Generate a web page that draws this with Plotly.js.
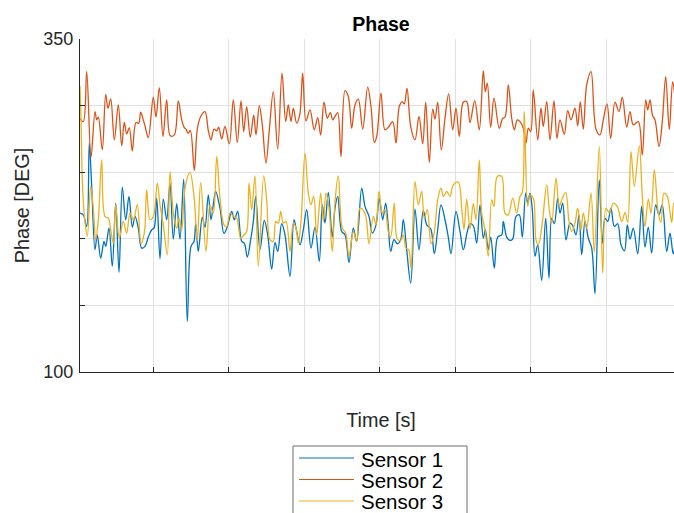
<!DOCTYPE html>
<html>
<head>
<meta charset="utf-8">
<script src="https://cdn.plot.ly/plotly-3.0.1.min.js"></script>
<style>
  html, body { margin: 0; padding: 0; overflow: hidden; background: #ffffff; }
  #chart { width: 700px; height: 513px; }
</style>
</head>
<body>
<div id="chart"></div>
<script>
// Sample rate of the phase recording (samples per second)
const FS = 75.5;

// Sensor 1: sample indices and phase in degrees
const s1Idx = [2.5,5.8,9.2,11.8,14.2,17.5,19.8,23.2,26.5,28.2,31.5,34.8,38.2,41.5,44.8,48.2,51.5,54.8,57.5,60.8,64.2,67.5,70.8,74.2,76.5,79.2,82.5,85.8,89.2,92.5,95.8,99.2,102.5,106.2,109.8,113.5,116.5,118.2,120.8,124.8,127.5,130.8,133.5,135.8,138.2,142.5,146.5,149.8,154.2,156.8,160.2,164.2,166.8,169.8,173.2,175.8,178.2,182.5,186.8,190.2,194.2,197.5,200.2,204.2,207.5,212.5,216.5,219.2,222.5,225.8,229.2,233.5,237.5,241.8,244.8,247.5,250.8,254.8,257.5,260.2,264.2,267.5,271.5,275.8,279.2,284.2,287.5,291.5,294.8,298.5,301.8,305.2,308.2,310.8,313.2,316.5,319.8,323.2,325.8,329.2,333.2,337.5,341.5,345.8,349.2,353.2,356.8,360.2,363.5,367.5,370.8,373.5,378.5,382.5,385.8,389.8,392.5,395.8,399.2,402.5,405.8,407.8,410.8,413.2,416.8,420.2,424.2,425.8,429.2,432.5,435.2,438.5,441.8,444.8,448.2,450.2,452.5,454.8,457.5,460.2,464.2,468.2,471.5,474.2,476.8,480.2,482.5,485.2,488.5,492.5,494.8,498.5,501.5,504.2,507.5,510.8,514.2,517.5,521.8,524.8,527.5,530.2,533.5,536.8,540.2,543.5,547,549.8,552.5,555.8,560.2,564.2,567.5,570.8,574.2,578.2,581.5,584.8,589.2,592.5,595.8,600,604.5];
const s1Deg = [219.3,218,209.3,271.8,239.3,191.8,203,185.5,198,194.3,208,179.3,226.8,174.8,238.8,214.3,231.8,208.8,216.8,208,193,194.3,201.3,206.8,208,230.5,185,229.8,214.3,241.8,199.8,226.3,199.8,244.8,138,194.3,198,211.3,190.5,216,208.8,233,214.3,225.5,235.5,223,204,209,220.5,214.3,220.5,198,196.8,186.3,199.3,213,231.8,191.8,213.8,203,177.3,197.3,190.5,211.3,203,171.8,214.3,205.5,195.5,206.8,221.8,193,208.8,183,225.5,211.8,234.8,201.3,223,231.8,205.5,203,182.3,208,198,238,224.3,216.8,204.3,210.5,230.5,214.3,226.8,209.3,190.5,199.3,196.3,199.3,214.3,191.8,166.8,222.3,191.8,221.3,210.5,207.5,188.8,206.8,225.5,214.3,201.3,188.8,220.5,205.5,191.8,205.5,211.3,209.8,196.8,225.5,200.5,206.8,191.8,201.3,178,201.3,203,213,201.3,198.8,199.8,216.8,218,201.3,234.3,226.8,234.3,221.8,186.8,195.5,168.8,215.5,170.5,215.5,211.3,230.5,219.3,226.8,199.3,211.8,210.5,203,218,188,213,200.5,193,158.8,244.3,196.8,215.5,213,223,209.3,211.3,195.5,191,210.5,199.8,208,188.8,224.3,193.8,208.8,189.3,225.5,218,225.5,190.5,204.3,188.8,205,198];

// Sensor 2
const s2Idx = [2.5,5.8,9.2,13.5,17.5,19.2,20.8,24.8,28.2,30.5,33.2,36.8,40.8,44.2,46.8,49.2,51.8,54.8,58.5,61.2,63.2,65.8,67.8,70.8,75.8,78.5,81.8,85.5,89.2,92.8,96.8,100.8,104.2,106.8,108.5,110.5,112.8,116.8,119.8,123.2,127.5,130.8,133.5,136.5,139.2,141.2,144.2,147.5,151.8,155.8,159.8,163.5,166.2,169.2,172.8,176.2,178.5,181.8,184.8,188.5,191.8,195.8,200.2,204.5,208.2,210.8,213.5,215.8,219.2,222.2,225.2,228.5,232.5,236.8,240.2,243.2,246.5,249.8,252.8,255.2,257.5,260.2,263.5,267.5,270.8,274.2,277.5,280.8,285.2,290.2,293.5,296.8,299.2,303.5,307.5,310.8,315.2,318.5,321.8,324.8,326.8,329.5,333.2,337.5,341.5,345.2,348.2,351.8,355.2,357.5,360.2,363.8,367.5,371.2,375.2,378.5,381.8,385.8,389.2,392.5,397.2,401.8,405.8,407.8,409.8,413.2,416.5,421.8,425.2,427.5,430.8,434.2,436.8,439.8,442.5,445.8,448.5,450.8,453.2,455.8,460.2,463.5,465.8,469.2,472.5,476.5,479.5,482.5,486.8,490.2,493.5,497.5,500.2,502.8,505.8,509.2,513.5,518.5,522.5,525.8,529.5,533.2,537.5,541.5,544.8,549.2,552.5,555.8,560.8,564.8,568.2,570.2,572.5,575.2,577.5,581.5,584.8,588.2,591.8,595.2,598.5,602,604.5];
const s2Deg = [290.5,288,325.5,261.3,295.5,289.3,291.3,266.8,308.5,298,305,274.3,300.5,269.8,287.3,278.8,283.5,266,287.3,286.8,295,289.3,283.8,276,306.3,291.3,313.5,276.8,304.3,277.3,278,303.5,289.3,283.5,282.3,279.3,281.3,251.3,282.3,291.8,295.5,281.3,274.3,282.3,281,283.8,275,284.3,271.3,304.3,272.3,303.5,280.5,299.3,276.3,293,278,300,285.5,256.8,281.8,310.5,267.3,324.3,288,300.5,288,298,286.8,293,324.3,288.5,296.8,281.8,291,278,302.5,290.5,294.8,289.3,291.8,294.8,261.8,311.3,306.8,283,300.5,304.8,282.3,313.8,299.3,272.3,276.8,309.3,281.8,283.8,288,271.8,299.3,303,301.3,313,284.3,274.3,291.8,271.3,302.5,257.3,297.3,289.8,302.5,266.8,290.5,308.8,281.8,298,276.8,302.5,303,287.3,303.8,281.8,326.3,310.5,316.8,283.8,305.5,283,290.5,291.3,315.5,290.5,281.8,289.3,288,283,271.8,283,280.5,311.8,274.3,298,284.3,303,274.3,303.5,275.5,289.3,278.5,296.3,289.3,298,284.8,303,282.3,315.5,325.5,282.3,278,289.3,301.3,275.5,302.5,295.5,306.3,283.8,295.5,285.5,288,263,304.3,296.8,304.3,292.3,289.3,269.3,288,321.8,282,318,300,288,294];

// Sensor 3
const s3Idx = [2.5,3.5,5,7,9.8,13.2,15.8,18.2,20.8,24.2,27.5,30.8,33.2,35.8,38.2,41.8,45.8,49.2,52.5,55.8,59.8,63.5,66.8,69.2,72.5,75.8,79.8,82.5,85.8,89.8,92.5,95.8,99.2,101.5,104.2,107.5,112.5,116.5,119.8,123.2,128.5,132.5,135.8,139.2,142.5,146.5,149.2,152.5,155.8,159.2,163.2,166.5,169.2,171.5,174.2,177.5,180.8,186.2,189.2,192.5,195.8,198.2,200.8,203.2,205.8,208.5,212.5,215.8,218.5,220.8,223.5,227.5,230.8,233.5,236.2,239.2,243.2,245.8,248.5,251.5,254.8,257.5,260.8,264.8,268.2,271.5,275.8,279.2,282.5,287.5,291.5,295.8,298.5,301.5,304.8,307.5,310.8,313.2,316.8,319.8,323.2,325.8,328.5,331.2,333.5,337.5,340.8,344.2,346.8,349.8,353.5,356.8,360.2,363.5,365.8,369.2,372.5,375.8,380.8,384.2,386.5,389.2,392.5,395.8,398.5,401.8,404.2,407.5,410.8,414.2,416.5,419.8,424.2,427.5,430.8,435.2,439.2,442.5,444.8,446.8,450.2,452.5,455.8,458.5,460.8,464.2,469.2,471.8,474.2,478.5,481.8,484.8,488.2,491.5,494.2,497.5,500.2,503.5,505.8,509.2,513.5,516.8,521.8,525.2,528.5,531.8,535.8,539.8,544.2,547.5,550.2,553.5,556.8,561.8,564.8,567.5,570.8,573.5,576.8,580.8,583.5,586.5,589.8,594.2,596.5,600,604.5];
const s3Deg = [314.8,290,240,216,201.8,239.3,223,199.3,214.3,259.3,216.8,215.5,206.8,196.8,225.5,200.5,213,204.3,219.3,214.3,225.5,196.3,204.3,236.8,214.3,216.8,241.8,225.5,210.5,188,250.5,219.3,208,215.5,206.8,238,249.8,231.8,198.8,242.3,190.5,225.5,219.3,261.8,230.5,210.5,209,219.3,216.8,215.5,200.5,203,205.5,241.8,221.8,247.3,179.3,247.3,229.3,199.3,198,213,211.8,220.5,211.8,213,190.5,211.8,208,196.8,213,264.3,234.3,225.5,231.8,203,234.3,213,234.3,223,190.5,228,247.3,208,204.3,186.8,205.5,198,223,219.3,196.3,216.8,210.5,235.5,219.3,221.8,205.5,201.3,226.8,199.8,198.8,203,193,191.8,178,243,225.5,235.5,215.5,221.8,196.3,204.8,229.3,238,231.8,235.5,231.8,240.5,242.5,223,206.8,229.8,207.3,226.3,214.3,259.3,219.3,206.8,186.8,229.3,224.3,246.8,246.8,219.3,218,230.5,219.3,231.8,234.8,295.5,224.3,233,230.5,199.3,195.5,208,240.5,221.8,211.8,245.5,224.3,230.5,234.8,213,205.5,211.8,223,206.8,219.3,208,234.3,190,269.3,174.3,223,219.3,226.8,224.3,213,219.8,212.3,265.5,239.3,269.8,231.8,209.3,229.8,219.3,251.8,219.3,212.3,234.3,231.8,212.3,226.8,222,215];

const seriesNames = ['Sensor 1', 'Sensor 2', 'Sensor 3'];
const seriesColors = ['#0072BD', '#D95319', '#EDB120'];
const yTickVals = [100, 150, 200, 250, 300, 350];
const yTickText = ['100', '', '', '', '', '350'];

const toSeconds = idx => idx.map(n => n / FS);

const FONT = 'Liberation Sans, Arial, Helvetica, sans-serif';
const INK = '#262626';

const series = [[s1Idx, s1Deg], [s2Idx, s2Deg], [s3Idx, s3Deg]];
const traces = series.map(([idx, deg], i) => ({
  type: 'scatter',
  mode: 'lines',
  name: seriesNames[i],
  x: toSeconds(idx),
  y: deg,
  line: { color: seriesColors[i], width: 1.3, shape: 'spline', smoothing: 1 },
  showlegend: false,
  hoverinfo: 'skip'
}));

// Plot frame in pixels, used to place the legend box below the axes
const W = 700, H = 513;
const MARGIN = { l: 80, r: 18, t: 39, b: 141 };
const plotW = W - MARGIN.l - MARGIN.r;
const plotH = H - MARGIN.t - MARGIN.b;
const px = x => (x - MARGIN.l) / plotW;
const py = y => (H - MARGIN.b - y) / plotH;

// Legend: boxed, three entries stacked under the x-axis title
const legendBox = { x0: 293, x1: 467, y0: 446, y1: 530 };
const legendRows = [458, 479.5, 501];
const legendShapes = [{
  type: 'rect', xref: 'paper', yref: 'paper',
  x0: px(legendBox.x0), x1: px(legendBox.x1), y0: py(legendBox.y1), y1: py(legendBox.y0),
  line: { color: '#6e6e6e', width: 1 }, fillcolor: '#ffffff', layer: 'above'
}].concat(legendRows.map((ry, i) => ({
  type: 'line', xref: 'paper', yref: 'paper',
  x0: px(299), x1: px(354), y0: py(ry), y1: py(ry),
  line: { color: seriesColors[i], width: 1.2 }, layer: 'above'
})));
const legendLabels = legendRows.map((ry, i) => ({
  xref: 'paper', yref: 'paper', x: px(359), y: py(ry + 1),
  xanchor: 'left', yanchor: 'middle', showarrow: false,
  text: seriesNames[i], font: { family: FONT, size: 20.5, color: '#000000' }
}));

const layout = {
  width: W, height: H,
  margin: MARGIN,
  paper_bgcolor: '#ffffff', plot_bgcolor: '#ffffff',
  font: { family: FONT, color: INK },
  title: {
    text: 'Phase', xref: 'paper', x: 0.5, xanchor: 'center',
    yref: 'container', y: 1 - 24 / H, yanchor: 'middle',
    font: { family: FONT, size: 19.5, color: '#000000', weight: 700 }
  },
  xaxis: {
    range: [s1Idx[0] / FS, s1Idx[s1Idx.length - 1] / FS],
    tickmode: 'linear', tick0: 0, dtick: 1,
    showticklabels: false,
    ticks: 'inside', ticklen: 5, tickwidth: 1, tickcolor: INK,
    showline: true, linecolor: INK, linewidth: 1,
    showgrid: true, gridcolor: '#e0e0e0', gridwidth: 1,
    zeroline: false,
    title: { text: 'Time [s]', standoff: 41, font: { family: FONT, size: 19.8, color: INK } }
  },
  yaxis: {
    range: [100, 350],
    tickmode: 'array', tickvals: yTickVals, ticktext: yTickText,
    ticks: 'inside', ticklen: 5, tickwidth: 1, tickcolor: INK,
    tickfont: { family: FONT, size: 18, color: INK },
    ticklabelstandoff: 2,
    showline: true, linecolor: INK, linewidth: 1,
    showgrid: true, gridcolor: '#e0e0e0', gridwidth: 1,
    zeroline: false,
    title: { text: 'Phase [DEG]', standoff: 8, font: { family: FONT, size: 19.8, color: INK } }
  },
  showlegend: false,
  shapes: legendShapes,
  annotations: legendLabels
};

Plotly.newPlot('chart', traces, layout, { staticPlot: true, displayModeBar: false });
</script>
</body>
</html>
